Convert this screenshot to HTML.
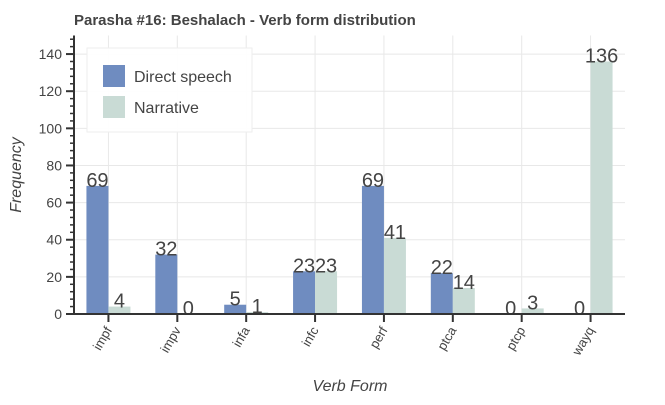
<!DOCTYPE html>
<html><head><meta charset="utf-8"><style>
body{margin:0;background:#fff;font-family:"Liberation Sans",sans-serif}
svg text{font-family:"Liberation Sans",sans-serif}
</style></head><body>
<svg width="665" height="400">
<text x="74" y="25" font-size="15" font-weight="bold" fill="#444">Parasha #16: Beshalach - Verb form distribution</text>
<g id="grid"></g><g id="bars"></g><g id="axes"></g>
<text transform="translate(21,175) rotate(-90)" text-anchor="middle" font-size="16" font-style="italic" fill="#444">Frequency</text>
<text x="350" y="391" text-anchor="middle" font-size="16" font-style="italic" fill="#444">Verb Form</text>
<g>
<rect x="87" y="48" width="165" height="84" fill="#fff" stroke="#eee" fill-opacity="0.95"/>
<rect x="103" y="65" width="22" height="22" fill="#6f8cc0"/>
<text x="134" y="82" font-size="16" fill="#444">Direct speech</text>
<rect x="103" y="96" width="22" height="22" fill="#c9dbd5"/>
<text x="134" y="113" font-size="16" fill="#444">Narrative</text>
</g>
</svg>
<script>
const categories=["impf","impv","infa","infc","perf","ptca","ptcp","wayq"];
const directSpeech=[69,32,5,23,69,22,0,0];
const narrative=[4,0,1,23,41,14,3,136];
const yTicks=[0,20,40,60,80,100,120,140];
const NS="http://www.w3.org/2000/svg";
const X0=74,X1=625,Y0=314,YMAX=150,YTOP=35.5;
const step=(X1-X0)/categories.length;
const xc=i=>X0+step*(i+0.5);
const y=v=>Y0-(v/YMAX)*(Y0-YTOP);
function mk(tag,attrs,parent){const e=document.createElementNS(NS,tag);for(const k in attrs)e.setAttribute(k,attrs[k]);document.getElementById(parent).appendChild(e);return e;}
yTicks.forEach(t=>{const l=mk('line',{x1:X0,x2:X1,y1:y(t),y2:y(t),stroke:'#e8e8e8'},'grid');

});
categories.forEach((c,i)=>{const l=mk('line',{x1:xc(i),x2:xc(i),y1:YTOP,y2:Y0,stroke:'#e8e8e8'},'grid');

});
const bw=22;
categories.forEach((c,i)=>{
 const d=directSpeech[i],n=narrative[i];
 const r1=mk('rect',{x:xc(i)-bw,y:y(d),width:bw,height:Y0-y(d),fill:'#6f8cc0'},'bars');
 
 
 const r2=mk('rect',{x:xc(i),y:y(n),width:bw,height:Y0-y(n),fill:'#c9dbd5'},'bars');
 
 
 const t1=mk('text',{x:xc(i)-bw/2,y:y(d)+1,'text-anchor':'middle','font-size':20,fill:'#444'},'bars');t1.textContent=d;
 
 
 const t2=mk('text',{x:xc(i)+bw/2,y:y(n)+1,'text-anchor':'middle','font-size':20,fill:'#444'},'bars');t2.textContent=n;
 
 
 const tk=mk('line',{x1:xc(i),x2:xc(i),y1:Y0,y2:Y0+8,stroke:'#333','stroke-width':2},'axes');
 
 
 const lb=mk('text',{transform:`translate(${xc(i)+4},${Y0+16}) rotate(-60)`,'text-anchor':'end','font-size':13,fill:'#444'},'axes');lb.textContent=c;
 
 
});
for(let v=0;v<=YMAX;v+=4){const l=mk('line',{x1:X0-4,x2:X0,y1:y(v),y2:y(v),stroke:'#333','stroke-width':1.5},'axes');

}
yTicks.forEach(t=>{const l=mk('line',{x1:X0-8,x2:X0,y1:y(t),y2:y(t),stroke:'#333','stroke-width':2},'axes');


const tx=mk('text',{x:X0-12,y:y(t)+5,'text-anchor':'end','font-size':14,fill:'#444'},'axes');tx.textContent=t;

});
const ya=mk('line',{x1:X0,x2:X0,y1:YTOP,y2:Y0+1,stroke:'#333','stroke-width':2},'axes');


const xa=mk('line',{x1:X0-8,x2:X1,y1:Y0,y2:Y0,stroke:'#333','stroke-width':2},'axes');


</script>
</body></html>
